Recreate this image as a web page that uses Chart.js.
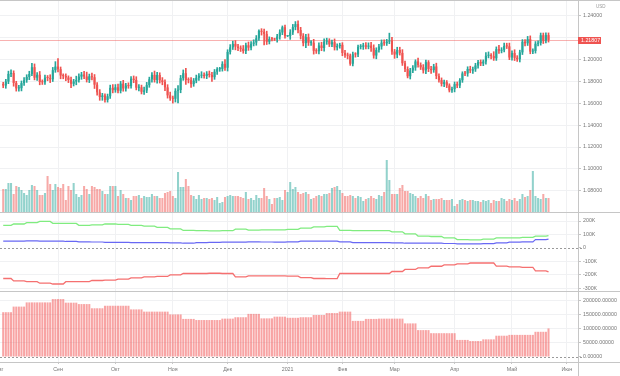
<!DOCTYPE html>
<html><head><meta charset="utf-8">
<script src="https://cdn.jsdelivr.net/npm/chart.js@4.4.0/dist/chart.umd.min.js"></script>
<style>
html,body{margin:0;padding:0;background:#fff;overflow:hidden;}
#wrap{position:relative;width:620px;height:376px;overflow:hidden;}
canvas{position:absolute;left:0;display:block;}
</style></head><body>
<div id="wrap">
<canvas id="cPrice" width="620" height="212" style="top:0px"></canvas>
<canvas id="cPos" width="620" height="79" style="top:212px"></canvas>
<canvas id="cOI" width="620" height="85" style="top:291px"></canvas>
</div>
<script>
// ---------------- DATA ----------------
// month labels on the time axis (bar index of the first trading day of each month)
const monthTicks  = [-1.5, 21, 43, 65, 86, 109, 130, 150, 173, 195, 216];
const monthLabels = ['Авг','Сен','Окт','Ноя','Дек','2021','Фев','Мар','Апр','Май','Июн'];

// EUR/USD daily closes, 3 Aug 2020 .. 21 May 2021
const closes = [
 1.1763,1.1800,1.1870,1.1878,1.1787,1.1737,1.1739,1.1785,1.1812,1.1842,1.1869,1.1931,1.1835,1.1862,1.1795,1.1793,1.1835,1.1832,1.1820,1.1904,1.1937,
 1.1913,1.1855,1.1850,1.1837,1.1815,1.1779,1.1800,1.1814,1.1845,1.1864,1.1846,1.1815,1.1848,1.1839,1.1771,1.1701,1.1658,1.1672,1.1631,1.1665,1.1742,1.1721,
 1.1747,1.1715,1.1781,1.1736,1.1763,1.1758,1.1826,1.1814,1.1743,1.1747,1.1706,1.1718,1.1767,1.1820,1.1861,1.1814,1.1860,1.1811,1.1795,1.1746,1.1673,1.1647,
 1.1642,1.1715,1.1722,1.1831,1.1876,1.1814,1.1812,1.1776,1.1808,1.1834,1.1853,1.1860,1.1851,1.1871,1.1860,1.1840,1.1890,1.1913,1.1915,1.1962,1.1926,
 1.2071,1.2113,1.2145,1.2120,1.2107,1.2100,1.2079,1.2132,1.2110,1.2146,1.2157,1.2196,1.2264,1.2255,1.2236,1.2164,1.2189,1.2187,1.2185,1.2212,1.2249,1.2297,1.2216,
 1.2216,1.2250,1.2298,1.2326,1.2271,1.2219,1.2151,1.2206,1.2155,1.2156,1.2081,1.2077,1.2130,1.2107,1.2165,1.2172,1.2140,1.2160,1.2113,1.2125,1.2136,
 1.2061,1.2041,1.2037,1.1963,1.2049,1.2048,1.2118,1.2119,1.2131,1.2119,1.2129,1.2106,1.2038,1.2089,1.2121,1.2156,1.2150,1.2166,1.2175,1.2074,
 1.2047,1.2089,1.2062,1.1967,1.1915,1.1848,1.1901,1.1927,1.1984,1.1951,1.1930,1.1902,1.1977,1.1915,1.1904,1.1938,1.1850,1.1813,1.1778,1.1794,1.1764,1.1719,1.1730,
 1.1776,1.1763,1.1812,1.1874,1.1873,1.1915,1.1900,1.1912,1.1947,1.1978,1.1965,1.1983,1.2036,1.2036,1.2033,1.2013,1.2097,1.2082,1.2090,1.2126,1.2122,1.2020,
 1.2061,1.2017,1.2004,1.2067,1.2164,1.2150,1.2188,1.2074,1.2080,1.2146,1.2153,1.2224,1.2173,1.2225,1.2181
];
const firstOpen = 1.1778;
const lastPrice = 1.21807;
// wick lengths beyond the candle body, in pips
const upperWick = [
 15,20,25,30,20,15,25,20,25,20,25,35,30,20,30,20,25,20,30,25,45,
 74,20,15,20,15,25,20,35,25,20,30,40,20,30,25,20,25,20,15,20,25,30,
 25,30,20,30,20,25,20,25,30,25,20,30,25,20,20,35,25,20,25,20,25,30,
 20,20,40,25,30,44,20,25,20,25,20,30,20,20,25,25,20,15,15,20,40,
 20,25,25,30,20,20,30,20,30,20,25,25,10,20,25,25,20,15,10,20,25,12,20,
 5,25,25,23,30,25,20,25,30,20,30,20,25,30,25,25,20,20,30,20,15,
 20,25,20,15,20,15,15,20,20,25,25,30,30,20,20,25,25,20,68,30,
 20,25,25,30,20,20,20,20,15,30,20,25,20,15,25,20,30,20,20,20,15,15,20,
 20,20,15,15,20,20,25,20,20,15,20,15,30,35,20,40,20,35,20,25,25,30,
 20,30,20,20,20,20,25,30,20,20,20,20,20,20,20
];
const lowerWick = [
 20,25,20,25,30,25,25,25,20,20,25,15,20,25,25,20,20,25,30,20,20,
 25,30,25,30,25,35,20,30,20,25,20,20,25,25,35,25,30,30,20,20,20,25,
 20,20,20,25,25,20,20,25,20,30,20,25,20,20,25,20,30,25,25,30,25,20,
 40,30,112,25,20,40,25,30,20,20,25,20,20,25,20,40,20,25,20,20,25,
 30,20,20,30,25,25,20,25,25,20,20,25,20,30,100,25,20,15,10,25,25,20,20,
 5,30,20,25,25,30,25,40,25,25,30,20,25,25,30,25,20,20,25,25,20,
 25,20,30,15,20,25,20,20,25,20,20,30,25,30,20,25,20,20,20,25,
 35,30,20,20,25,15,25,20,25,20,20,25,30,25,30,20,25,20,20,25,20,15,20,
 25,20,20,20,20,25,20,25,20,25,20,20,25,20,25,20,20,25,20,20,20,20,
 25,25,20,25,20,25,20,20,20,20,20,20,25,20,20
];
// daily tick volume (relative units)
const volumes = [
 23,23,29,29,18,26,25,22,19,17, 22,27,26,22,17,17,19,36,28,22,
 28,25,24,28,12,26,22,29,18,15, 17,26,23,18,26,25,23,23,21,18,
 18,26,26,26,16,22,18,14,14,12, 16,16,17,14,16,15,15,18,16,16,
 14,14,19,20,21,16,14,40,25,25, 33,26,17,16,13,17,13,14,14,13,
 14,12,15,9,10,15,16,17,16,16,  16,15,14,20,13,14,12,17,14,14,
 24,16,13,8,14,14,15,12,22,20,  30,23,25,20,18,19,20,18,13,14,
 16,17,16,18,18,19,24,25,26,22, 19,16,16,17,16,14,16,15,11,13,
 14,16,14,13,17,16,20,52,32,18, 18,18,24,27,21,21,19,18,16,14,
 16,14,18,16,12,13,13,13,14,12, 12,12,13,6,8,12,13,12,11,12,
 12,11,11,10,12,11,12,9,12,11,  11,14,13,11,13,12,14,11,13,18,
 15,16,22,41,16,14,13,18,14,14
];
// weekly (COT-style) series; a new value starts every Friday
const firstWeekDays = 4;
const weekDays = 5;
const greenSeries = [168,178,188,197,183,182,168,172,178,175,168,162,153,142,130,128,127,128,140,133,134,134,138,147,157,160,130,129,129,128,120,105,88,85,74,62,60,66,74,75,78,88,92].map(v => v * 1000);
const blueSeries  = [50,50,52,50,50,48,45,44,42,42,40,40,40,38,35,40,42,43,43,45,44,43,45,50,50,50,45,40,40,40,38,35,35,35,33,30,30,32,38,43,45,62,65].map(v => v * 1000);
const redSeries   = [-227,-245,-251,-262,-268,-251,-250,-242,-239,-232,-222,-215,-212,-200,-190,-190,-188,-190,-215,-208,-207,-207,-210,-220,-227,-228,-190,-190,-190,-190,-175,-160,-148,-136,-126,-118,-112,-112,-135,-140,-145,-170,-178].map(v => v * 1000);
const openInterest = [160,180,195,195,207,194,189,174,183,183,170,162,162,152,136,132,132,137,142,154,138,144,140,142,150,157,162,129,136,137,137,120,96,85,85,61,57,63,76,79,79,90,102].map(v => v * 1000);

const priceTicks = [1.08, 1.10, 1.12, 1.14, 1.16, 1.18, 1.20, 1.22, 1.24];
const posTicks   = [200000, 100000, 0, -100000, -200000, -300000];
const posLabels  = ['200K','100K','0','-100K','-200K','-300K'];
const oiTicks    = [200000, 150000, 100000, 50000, 0];

// ---------------- BUILD ----------------
const FONT = "'Liberation Sans', Arial, sans-serif";
Chart.defaults.font.family = FONT;
Chart.defaults.font.size = 5.3;
Chart.defaults.color = '#767676';
Chart.defaults.animation = false;
Chart.defaults.plugins.legend.display = false;
Chart.defaults.plugins.tooltip.enabled = false;
Chart.defaults.layout.autoPadding = false;

const UP = '#26a69a', DN = '#ef5350';
const GRID = '#f0f1f3', LINE = '#c6c6c6';
const X_MIN = -1.23, X_MAX = 220.3;

const opens = closes.map((c, i) => i === 0 ? firstOpen : closes[i - 1]);
const isUp = closes.map((c, i) => c >= opens[i]);
const weekOf = i => i < firstWeekDays ? 0 : 1 + Math.floor((i - firstWeekDays) / weekDays);
const daily = arr => closes.map((_, i) => ({x: i, y: arr[weekOf(i)]}));

function xAxis(show) {
  return {
    type: 'linear', min: X_MIN, max: X_MAX, offset: false,
    grid: {color: GRID, offset: false, drawTicks: show, tickLength: 2, tickColor: LINE},
    border: {display: false},
    ticks: {display: show, autoSkip: false, maxRotation: 0, padding: 2, callback: (v, i) => monthLabels[i]},
    afterBuildTicks: s => { s.ticks = monthTicks.map(v => ({value: v})); },
    afterFit: s => { s.height = show ? 14 : 0; s.paddingLeft = 0; s.paddingRight = 0; }
  };
}
function yAxis(min, max, ticks, fmt) {
  return {
    position: 'right', min, max,
    grid: {color: c => (c.tick && c.tick.value === 0) ? 'rgba(0,0,0,0)' : GRID, tickLength: 3, tickColor: LINE},
    border: {display: true, color: LINE},
    ticks: {padding: 2, autoSkip: false, callback: fmt},
    afterBuildTicks: s => { s.ticks = ticks.map(v => ({value: v})); },
    afterFit: s => { s.width = 42; s.paddingTop = 0; s.paddingBottom = 0; }
  };
}
const framePlugin = {
  id: 'frame',
  afterDraw(chart, args, opts) {
    const ctx = chart.ctx, W = chart.width, H = chart.height, ca = chart.chartArea;
    ctx.save();
    ctx.strokeStyle = LINE; ctx.lineWidth = 1;
    ctx.beginPath();
    ctx.moveTo(0, 0.5); ctx.lineTo(W, 0.5);
    if (opts.bottomLine) { ctx.moveTo(0, ca.bottom + 0.5); ctx.lineTo(W, ca.bottom + 0.5); }
    ctx.moveTo(ca.right + 0.5, 0); ctx.lineTo(ca.right + 0.5, H);
    ctx.stroke();
    ctx.restore();
  }
};
const zeroPlugin = {
  id: 'zeroLine',
  afterDatasetsDraw(chart, args, opts) {
    if (!opts.on) return;
    const ctx = chart.ctx, ca = chart.chartArea;
    const y = Math.round(chart.scales.y.getPixelForValue(0)) + 0.5;
    ctx.save();
    ctx.strokeStyle = '#9a9a9a'; ctx.lineWidth = 1; ctx.setLineDash([2, 2]);
    ctx.beginPath(); ctx.moveTo(0, y); ctx.lineTo(ca.right + 4, y); ctx.stroke();
    ctx.restore();
  }
};
const pricePlugin = {
  id: 'priceLine',
  beforeDatasetsDraw(chart) {
    const ctx = chart.ctx, ca = chart.chartArea;
    const y = Math.round(chart.scales.y.getPixelForValue(lastPrice)) + 0.5;
    ctx.save();
    ctx.strokeStyle = 'rgba(239,83,80,0.45)'; ctx.lineWidth = 1;
    ctx.beginPath(); ctx.moveTo(ca.left, y); ctx.lineTo(ca.right, y); ctx.stroke();
    ctx.restore();
  },
  afterDraw(chart) {
    const ctx = chart.ctx, ca = chart.chartArea;
    const y = chart.scales.y.getPixelForValue(lastPrice);
    ctx.save();
    ctx.fillStyle = DN;
    ctx.fillRect(ca.right, Math.round(y) - 3, 23, 7);
    ctx.fillStyle = '#ffffff';
    ctx.font = '5.3px ' + FONT;
    ctx.textBaseline = 'middle'; ctx.textAlign = 'left';
    ctx.fillText(lastPrice.toFixed(5), ca.right + 3, Math.round(y) + 0.5);
    ctx.fillStyle = '#9a9a9a';
    ctx.font = '4.5px ' + FONT;
    ctx.fillText('USD', ca.right + 18, 7);
    ctx.restore();
  }
};

// ---- price panel ----
new Chart(document.getElementById('cPrice'), {
  type: 'bar',
  data: {
    datasets: [
      {data: closes.map((c, i) => ({x: i, y: [opens[i], c]})),
       backgroundColor: isUp.map(u => u ? UP : DN), borderWidth: 0, minBarLength: 1,
       grouped: false, barPercentage: 0.8, categoryPercentage: 1, order: 1, yAxisID: 'y'},
      {data: closes.map((c, i) => ({x: i, y: [Math.min(opens[i], c) - lowerWick[i] / 10000, Math.max(opens[i], c) + upperWick[i] / 10000]})),
       backgroundColor: isUp.map(u => u ? UP : DN), borderWidth: 0, barThickness: 1,
       grouped: false, order: 2, yAxisID: 'y'},
      {data: volumes.map((v, i) => ({x: i, y: v})),
       backgroundColor: isUp.map(u => u ? 'rgba(38,166,154,0.5)' : 'rgba(239,83,80,0.5)'), borderWidth: 0,
       grouped: false, barPercentage: 0.78, categoryPercentage: 1, order: 3, yAxisID: 'yv'}
    ]
  },
  options: {
    responsive: false,
    layout: {padding: 0},
    scales: {
      x: xAxis(false),
      y: yAxis(1.0605, 1.25465, priceTicks, v => v === 1.22 ? '' : v.toFixed(5)),
      yv: {display: false, position: 'right', min: 0, max: 212}
    },
    plugins: {frame: {bottomLine: false}, zeroLine: {on: false}}
  },
  plugins: [framePlugin, pricePlugin]
});

// ---- positions panel ----
new Chart(document.getElementById('cPos'), {
  type: 'line',
  data: {
    datasets: [
      {data: daily(greenSeries), borderColor: '#80ec80', borderWidth: 1.3, pointRadius: 0, tension: 0},
      {data: daily(blueSeries),  borderColor: '#6868f4', borderWidth: 1.2, pointRadius: 0, tension: 0},
      {data: daily(redSeries),   borderColor: '#f57070', borderWidth: 1.3, pointRadius: 0, tension: 0}
    ]
  },
  options: {
    responsive: false,
    layout: {padding: 0},
    scales: {
      x: xAxis(false),
      y: yAxis(-320000, 267000, posTicks, (v, i) => posLabels[i])
    },
    plugins: {frame: {bottomLine: false}, zeroLine: {on: true}}
  },
  plugins: [zeroPlugin, framePlugin]
});

// ---- open interest panel ----
new Chart(document.getElementById('cOI'), {
  type: 'bar',
  data: {
    datasets: [
      {data: daily(openInterest), backgroundColor: 'rgba(242,90,90,0.55)', borderWidth: 0,
       barPercentage: 0.78, categoryPercentage: 1, grouped: false}
    ]
  },
  options: {
    responsive: false,
    layout: {padding: 0},
    scales: {
      x: xAxis(true),
      y: yAxis(-17860, 235700, oiTicks, v => v.toFixed(5))
    },
    plugins: {frame: {bottomLine: true}, zeroLine: {on: true}}
  },
  plugins: [zeroPlugin, framePlugin]
});
</script>
</body></html>
